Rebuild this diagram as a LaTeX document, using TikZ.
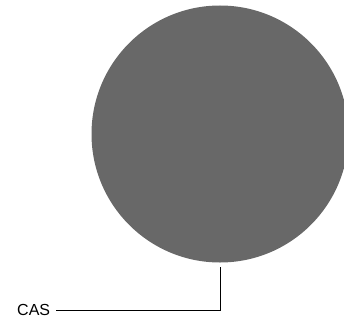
\documentclass[tikz,border=0pt]{standalone}
\usepackage{fontspec}
\setmainfont{Liberation Sans}
\usetikzlibrary{positioning}

\begin{document}
\begin{tikzpicture}[
    x=1pt, y=-1pt,
    cell/.style={
        circle, fill=cellgray, draw=none,
        minimum size=257pt, inner sep=0pt
    },
    tag/.style={font=\fontsize{16}{18}\selectfont, inner sep=0pt, anchor=west},
    lead/.style={draw=black, line width=1pt},
]
\definecolor{cellgray}{RGB}{104,104,104}

% Rahmen
\useasboundingbox (0,0) rectangle (344,323);
\clip (0,0) rectangle (344,323);

% Zelle
\node[cell] (ball) at (220,134) {};

% Beschriftung
\node[tag] (cas) at (17,310) {CAS};

% Hinweislinie
\draw[lead] ([xshift=6pt]cas.east) -| ([yshift=-4pt]ball.south);

\end{tikzpicture}
\end{document}
